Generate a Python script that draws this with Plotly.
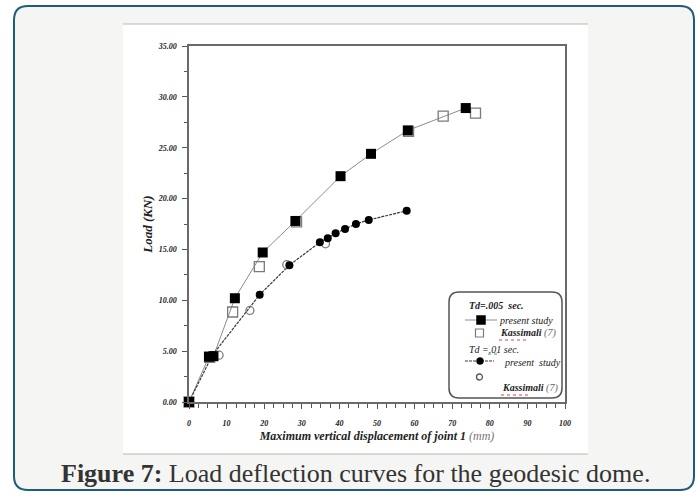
import plotly.graph_objects as go

# ---------------- data ----------------
x_ps_005 = [0, 5.3, 6.5, 12.2, 19.6, 28.3, 40.3, 48.4, 58.2, 73.6]
y_ps_005 = [0, 4.45, 4.5, 10.2, 14.7, 17.8, 22.2, 24.4, 26.7, 28.9]

x_ka_005 = [0, 5.5, 11.6, 18.7, 28.6, 58.4, 67.6, 76.2]
y_ka_005 = [0, 4.4, 8.85, 13.3, 17.7, 26.6, 28.1, 28.4]

x_ps_01 = [0, 6.2, 18.8, 26.7, 34.8, 36.9, 39.0, 41.5, 44.4, 47.8, 57.9]
y_ps_01 = [0, 4.6, 10.55, 13.45, 15.7, 16.1, 16.6, 17.0, 17.5, 17.9, 18.8]

x_ka_01 = [0, 8.0, 16.2, 26.0, 36.3]
y_ka_01 = [0, 4.6, 9.0, 13.5, 15.55]

x_ticks = [0, 10, 20, 30, 40, 50, 60, 70, 80, 90, 100]
y_ticks = [0, 5, 10, 15, 20, 25, 30, 35]
y_tick_labels = ["0.00", "5.00", "10.00", "15.00", "20.00", "25.00", "30.00", "35.00"]

# ---------------- geometry (pixels) ----------------
W, H = 699, 496
L, R, T, B = 189, 565, 46, 402
PW, PH = R - L, B - T


def px(x):
    return (x - L) / PW


def py(y):
    return (B - y) / PH


def rounded(x0, y0, x1, y1, r):
    # rounded rectangle path in paper coords from pixel coords
    rx, ry = r / PW, r / PH
    X0, X1 = px(x0), px(x1)
    Y0, Y1 = py(y1), py(y0)  # bottom, top
    return (f"M{X0+rx},{Y1} L{X1-rx},{Y1} Q{X1},{Y1} {X1},{Y1-ry} "
            f"L{X1},{Y0+ry} Q{X1},{Y0} {X1-rx},{Y0} L{X0+rx},{Y0} "
            f"Q{X0},{Y0} {X0},{Y0+ry} L{X0},{Y1-ry} Q{X0},{Y1} {X0+rx},{Y1} Z")


fig = go.Figure()

sq_col = "#000000"
open_col = "#7a7a7a"

fig.add_trace(go.Scatter(x=x_ps_005, y=y_ps_005, mode="lines",
                         line=dict(color="#8c8c8c", width=1), cliponaxis=False))
fig.add_trace(go.Scatter(x=x_ps_01, y=y_ps_01, mode="lines",
                         line=dict(color="#3a3a3a", width=1.2, dash="3px,1px"), cliponaxis=False))
fig.add_trace(go.Scatter(x=x_ka_005, y=y_ka_005, mode="markers",
                         marker=dict(symbol="square-open", size=10, color=open_col, line=dict(width=1.3)),
                         cliponaxis=False))
fig.add_trace(go.Scatter(x=x_ka_01, y=y_ka_01, mode="markers",
                         marker=dict(symbol="circle-open", size=8, color=open_col, line=dict(width=1.3)),
                         cliponaxis=False))
fig.add_trace(go.Scatter(x=x_ps_005, y=y_ps_005, mode="markers",
                         marker=dict(symbol="square", size=10, color=sq_col), cliponaxis=False))
fig.add_trace(go.Scatter(x=x_ps_01, y=y_ps_01, mode="markers",
                         marker=dict(symbol="circle", size=8, color=sq_col), cliponaxis=False))

tick_font = dict(family="Liberation Serif", size=8, color="#222", weight="bold", style="italic")

fig.update_xaxes(range=[0, 100], tickvals=x_ticks, ticktext=[str(v) for v in x_ticks],
                 showgrid=False, zeroline=False, showline=True, linecolor="#6a6a6a", linewidth=1.5,
                 mirror=True, ticks="outside", ticklen=5, tickcolor="#555", tickwidth=1,
                 minor=dict(dtick=2.5, ticks="outside", ticklen=4, tickcolor="#555", tickwidth=1),
                 tickfont=tick_font, ticklabelstandoff=8,
                 title=dict(text="<b><i>Maximum vertical displacement of joint 1</i></b> <i><span style='color:#777'>(mm)</span></i>",
                            font=dict(family="Liberation Serif", size=12, color="#222"), standoff=4))
fig.update_yaxes(range=[0, 35], tickvals=y_ticks, ticktext=y_tick_labels,
                 showgrid=False, zeroline=False, showline=True, linecolor="#6a6a6a", linewidth=1.5,
                 mirror=True, ticks="outside", ticklen=5, tickcolor="#555", tickwidth=1,
                 minor=dict(dtick=2.5, ticks="outside", ticklen=3, tickcolor="#555", tickwidth=1),
                 tickfont=tick_font, ticklabelstandoff=4,
                 title=dict(text="<b><i>Load (KN)</i></b>",
                            font=dict(family="Liberation Serif", size=13, color="#222"), standoff=2))

shapes = []
# card
shapes.append(dict(type="path", path=rounded(14, 6, 694, 490, 14), xref="paper", yref="paper",
                   fillcolor="#f5f5f3", line=dict(color="#1d5c7a", width=2), layer="below"))
# white picture area
shapes.append(dict(type="rect", x0=px(123), x1=px(588), y0=py(454), y1=py(24), xref="paper", yref="paper",
                   fillcolor="white", line=dict(width=0), layer="below"))
for yy in (24, 454):
    shapes.append(dict(type="line", x0=px(123), x1=px(588), y0=py(yy), y1=py(yy), xref="paper", yref="paper",
                       line=dict(color="#b8b8b8", width=1.2), layer="below"))
# legend box
shapes.append(dict(type="path", path=rounded(449, 292, 562, 398, 10), xref="paper", yref="paper",
                   fillcolor="white", line=dict(color="#555", width=1.5)))
# legend symbols
shapes.append(dict(type="line", x0=px(465), x1=px(497), y0=py(320), y1=py(320), xref="paper", yref="paper",
                   line=dict(color="#8c8c8c", width=1)))
shapes.append(dict(type="rect", x0=px(476.5), x1=px(485.5), y0=py(324.5), y1=py(315.5), xref="paper", yref="paper",
                   fillcolor="black", line=dict(color="black", width=0.5)))
shapes.append(dict(type="rect", x0=px(475.5), x1=px(483.5), y0=py(337), y1=py(329), xref="paper", yref="paper",
                   fillcolor="white", line=dict(color=open_col, width=1.2)))
shapes.append(dict(type="line", x0=px(465), x1=px(494), y0=py(361), y1=py(361), xref="paper", yref="paper",
                   line=dict(color="#3a3a3a", width=1.2, dash="3px,1px")))
shapes.append(dict(type="circle", x0=px(476.5), x1=px(483.5), y0=py(364.5), y1=py(357.5), xref="paper", yref="paper",
                   fillcolor="black", line=dict(color="black", width=0.5)))
shapes.append(dict(type="circle", x0=px(476.5), x1=px(482.5), y0=py(380), y1=py(374), xref="paper", yref="paper",
                   fillcolor="white", line=dict(color="#555", width=1.3)))
# spell-check squiggles
for (a, b, yy, c) in [(499, 526, 340, "#e04040"), (488, 498, 354, "#40a040"), (501, 528, 395, "#e04040")]:
    shapes.append(dict(type="line", x0=px(a), x1=px(b), y0=py(yy), y1=py(yy), xref="paper", yref="paper",
                       line=dict(color=c, width=1, dash="dot")))

lf = dict(family="Liberation Serif", size=10, color="#222")
annotations = []


def ann(text, x, y, xanchor="left", font=lf, yanchor="middle"):
    annotations.append(dict(text=text, x=px(x), y=py(y), xref="paper", yref="paper", showarrow=False,
                            xanchor=xanchor, yanchor=yanchor, font=font))


ann("<b><i>Td=.005  sec.</i></b>", 467, 305)
ann("<i>present study</i>", 497, 320)
ann("<b><i>Kassimali</i></b> <i><span style='color:#666'>(7)</span></i>", 498, 333)
ann("<i>Td =.01 sec.</i>", 467, 349)
ann("<i>present  study</i>", 502, 362)
ann("<b><i>Kassimali</i></b> <i><span style='color:#666'>(7)</span></i>", 500, 388)

# caption
ann("<b>Figure 7:</b> Load deflection curves for the geodesic dome.", 355, 473, xanchor="center",
    font=dict(family="Liberation Serif", size=26, color="#333"))

fig.update_layout(width=W, height=H, margin=dict(l=L, r=W - R, t=T, b=H - B),
                  paper_bgcolor="white", plot_bgcolor="rgba(0,0,0,0)", showlegend=False,
                  shapes=shapes, annotations=annotations)

fig.write_html("out.html")
